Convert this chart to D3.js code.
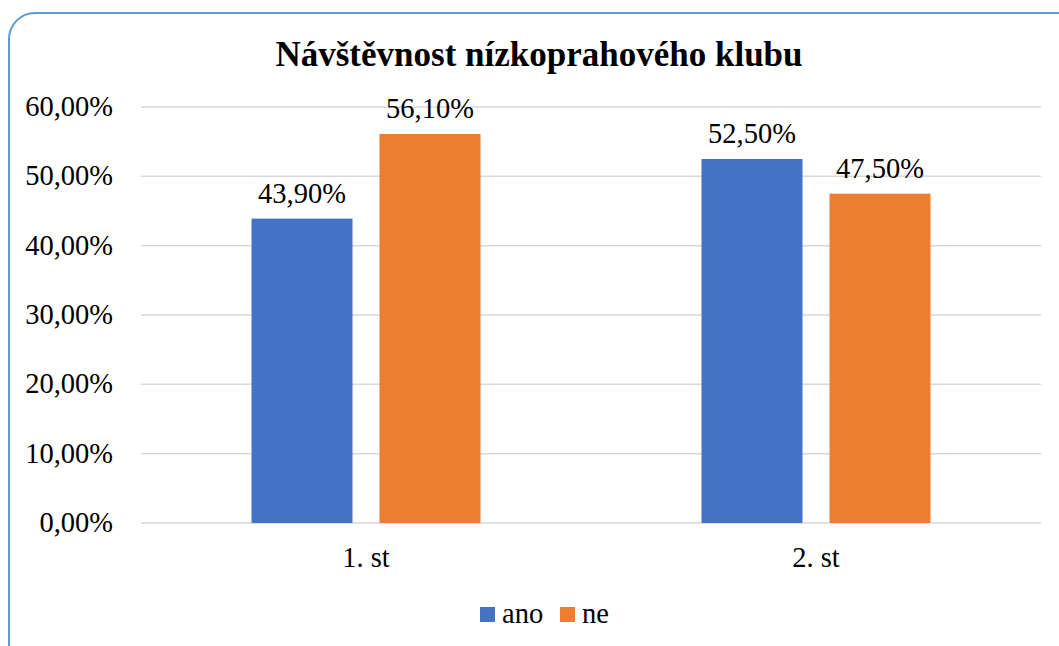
<!DOCTYPE html>
<html><head><meta charset="utf-8">
<script src="https://cdn.jsdelivr.net/npm/d3@7"></script>
<style>body{margin:0;background:#fff;} svg{display:block;}</style>
</head><body>
<svg id="chart" width="1059" height="646"></svg>
<script>
const categories = ["1. st", "2. st"];
const seriesNames = ["ano", "ne"];
const ano = [43.90, 52.50];
const ne = [56.10, 47.50];
const yTicks = [0, 10, 20, 30, 40, 50, 60];
const title = "Návštěvnost nízkoprahového klubu";
const colors = ["#4472c4", "#ed7d31"];

const svg = d3.select("#chart");
const font = "Liberation Serif";
const fs = 28.5;

svg.append("rect").attr("x", 9).attr("y", 13).attr("width", 1080).attr("height", 680)
  .attr("rx", 26).attr("ry", 26).attr("fill", "#fff").attr("stroke", "#5b9bd5").attr("stroke-width", 2);

const x0 = d3.scaleBand().domain(categories).range([141, 1041]).paddingInner(0).paddingOuter(0);
const y = d3.scaleLinear().domain([0, 60]).range([523, 107]);
const fmt = v => v.toFixed(2).replace(".", ",") + "%";

svg.append("g").selectAll("line").data(yTicks).join("line")
  .attr("x1", 141).attr("x2", 1041).attr("y1", d => y(d)).attr("y2", d => y(d))
  .attr("stroke", "#d9d9d9").attr("stroke-width", 1.5);

svg.append("g").selectAll("text").data(yTicks).join("text")
  .attr("x", 113).attr("y", d => y(d) + 9).attr("text-anchor", "end")
  .attr("font-family", font).attr("font-size", fs).attr("fill", "#000").text(d => fmt(d));

const data = categories.map((c, i) => ({cat: c, vals: [ano[i], ne[i]]}));
const barW = 101, gap = 27;
const g = svg.append("g");
data.forEach(d => {
  const cx = x0(d.cat) + x0.bandwidth() / 2;
  d.vals.forEach((v, j) => {
    const bx = cx - gap / 2 - barW + j * (barW + gap);
    g.append("rect").attr("x", bx).attr("y", y(v)).attr("width", barW).attr("height", y(0) - y(v))
      .attr("fill", colors[j]);
    g.append("text").attr("x", bx + barW / 2).attr("y", y(v) - 16).attr("text-anchor", "middle")
      .attr("font-family", font).attr("font-size", fs).attr("fill", "#000").text(fmt(v));
  });
  svg.append("text").attr("x", cx).attr("y", 567).attr("text-anchor", "middle")
    .attr("font-family", font).attr("font-size", fs).attr("fill", "#000").text(d.cat);
});

svg.append("text").attr("x", 539).attr("y", 66).attr("text-anchor", "middle")
  .attr("font-family", font).attr("font-size", 35).attr("font-weight", "bold").attr("fill", "#000").text(title);

const legX = [480, 560];
seriesNames.forEach((s, i) => {
  svg.append("rect").attr("x", legX[i]).attr("y", 607).attr("width", 15).attr("height", 15).attr("fill", colors[i]);
  svg.append("text").attr("x", legX[i] + 22).attr("y", 623).attr("font-family", font).attr("font-size", fs)
    .attr("fill", "#000").text(s);
});
</script>
</body></html>
